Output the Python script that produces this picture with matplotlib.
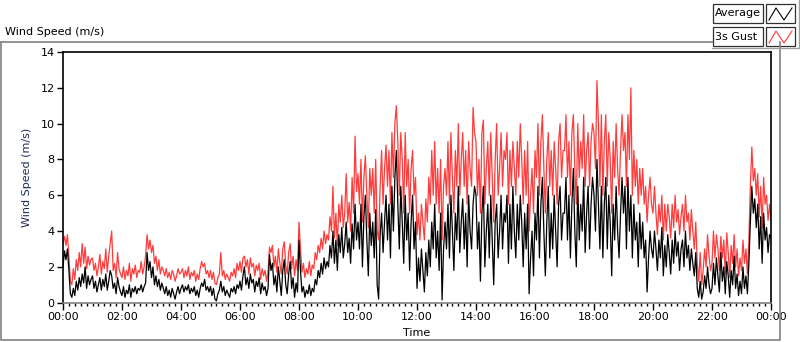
import numpy as np
import matplotlib
matplotlib.use("Agg")
import matplotlib.pyplot as plt
from matplotlib.patches import Rectangle
from matplotlib.lines import Line2D
from matplotlib.ticker import MultipleLocator, FuncFormatter

# 3-minute samples, one row per hour
average = [
    2.0, 2.9, 2.4, 3.0, 1.8, 0.5, 0.3, 0.8, 0.4, 1.2, 0.7, 1.4, 0.9, 1.6, 1.1, 2.0, 0.8, 1.5, 1.0, 1.3,
    1.5, 0.8, 1.2, 0.6, 1.0, 1.4, 0.7, 1.3, 0.9, 1.6, 0.7, 1.2, 1.8, 1.5, 0.8, 1.1, 0.5, 1.4, 0.9, 0.6,
    0.4, 0.9, 0.3, 0.7, 0.5, 1.0, 0.3, 0.8, 0.6, 0.9, 0.5, 0.8, 0.7, 1.0, 0.6, 0.9, 1.1, 2.8, 1.8, 2.3,
    1.4, 2.0, 1.0, 1.5, 0.9, 1.3, 0.7, 1.1, 0.8, 0.5, 0.9, 0.4, 0.7, 0.3, 0.8, 0.5, 0.2, 0.6, 0.9, 0.5,
    0.8, 1.0, 0.6, 0.9, 0.7, 1.0, 0.5, 0.8, 0.6, 0.9, 0.4, 0.7, 0.3, 0.8, 1.1, 0.9, 1.3, 0.7, 0.9, 0.6,
    0.9, 0.4, 0.8, 0.2, 0.1, 0.5, 0.7, 1.2, 0.6, 0.9, 0.4, 0.7, 0.5, 0.3, 0.8, 0.6, 0.9, 0.5, 1.0, 0.8,
    1.2, 0.7, 1.5, 2.0, 1.0, 1.4, 0.8, 1.6, 1.1, 1.3, 0.6, 1.2, 0.9, 1.4, 0.5, 1.1, 0.7, 0.9, 0.4, 0.8,
    2.7, 1.8, 2.2, 1.0, 1.5, 0.6, 2.0, 1.2, 0.4, 1.8, 2.4, 1.0, 0.5, 1.6, 2.3, 0.8, 1.4, 0.3, 1.1, 0.6,
    3.5, 1.8, 0.6, 0.9, 0.3, 0.7, 0.5, 1.0, 0.4, 0.8, 0.6, 1.3, 1.0, 1.8, 1.4, 2.2, 1.6, 2.5, 1.9, 2.3,
    2.0, 3.2, 2.5, 4.0, 2.2, 3.5, 1.8, 3.8, 2.8, 4.2, 2.5, 3.3, 4.5, 2.8, 3.6, 2.2, 4.4, 3.0, 5.5, 3.5,
    4.5, 3.0, 5.5, 2.0, 4.8, 6.0, 3.5, 1.5, 5.0, 3.2, 4.5, 2.5, 5.2, 1.0, 0.2, 3.8, 5.0, 2.8, 4.5, 6.0,
    3.5, 5.5, 2.5, 6.5, 4.0, 7.0, 8.5, 5.5, 3.0, 6.5, 4.5, 2.2, 6.0, 3.5, 5.0, 1.8, 4.5, 6.0, 3.0, 4.5,
    0.8, 2.5, 1.2, 3.0, 1.8, 0.6, 2.8, 1.5, 3.5, 2.0, 4.5, 3.0, 5.5, 2.5, 4.0, 1.8, 5.0, 0.15, 3.0, 4.5,
    3.0, 5.5, 2.5, 6.0, 4.0, 1.8, 5.0, 3.5, 6.5, 2.8, 4.5, 5.8, 3.0, 5.0, 2.0, 6.0, 4.0, 3.0, 5.5, 6.5,
    6.0, 3.0, 4.5, 1.2, 5.0, 6.5, 2.0, 4.0, 5.5, 2.5, 6.0, 3.5, 1.0, 4.5, 5.5, 2.5, 4.0, 6.0, 3.0, 5.0,
    4.5, 6.0, 2.2, 5.5, 3.0, 6.5, 4.0, 2.5, 5.5, 3.5, 6.0, 4.5, 2.0, 5.0, 3.0, 5.5, 0.5, 2.5, 4.0, 1.5,
    5.0, 3.5, 6.5, 2.5, 5.5, 7.0, 4.0, 1.5, 4.5, 6.5, 2.5, 5.0, 3.0, 6.0, 4.0, 2.0, 5.5, 6.5, 3.5, 5.0,
    5.0, 7.0, 3.5, 6.0, 2.5, 5.5, 7.5, 4.0, 2.0, 6.5, 3.5, 5.5, 4.0, 7.0, 2.8, 5.0, 6.5, 3.0, 5.5, 7.0,
    6.0, 4.0, 8.0, 5.5, 3.0, 6.5, 2.5, 5.5, 7.0, 3.0, 6.0, 4.5, 1.5, 5.5, 3.5, 6.5, 4.0, 2.5, 5.0, 7.0,
    5.0, 6.5, 3.0, 7.0, 4.0, 6.0, 2.5, 5.5, 3.5, 4.5, 2.0, 5.0, 3.0, 4.5, 2.5, 3.5, 0.6, 2.5, 4.0, 3.0,
    2.5, 4.0, 3.0, 1.8, 3.5, 2.5, 4.2, 1.5, 3.2, 2.0, 3.8, 2.8, 1.6, 3.5, 2.2, 4.0, 2.6, 3.4, 1.8, 3.0,
    3.5, 2.0, 4.0, 2.5, 3.2, 1.8, 3.0, 2.2, 1.5, 2.8, 0.8, 0.3, 1.2, 0.2, 0.6, 1.5, 0.8, 2.0, 1.0, 0.5,
    0.8, 2.2, 1.0, 2.5, 1.5, 0.6, 2.8, 1.2, 2.0, 0.5, 2.3, 1.5, 0.3, 1.8, 1.0, 2.6, 0.8, 1.6, 0.4, 1.2,
    0.5, 2.0, 0.8, 1.5, 0.5, 2.2, 4.5, 6.5, 5.0, 5.8, 4.2, 5.5, 3.0, 4.8, 2.2, 5.0, 3.5, 4.2, 2.8, 3.8,
    3.6,
]
gust = [
    3.3, 3.7, 3.2, 3.8, 2.6, 1.2, 1.0, 1.9, 1.3, 2.4, 1.8, 2.8, 2.0, 3.3, 2.2, 3.1, 1.9, 2.6, 2.1, 2.4,
    2.5, 1.8, 2.2, 1.5, 2.0, 2.7, 1.6, 2.3, 1.9, 3.0, 1.7, 2.6, 3.3, 4.0, 1.8, 2.2, 1.4, 2.8, 1.9, 1.6,
    1.4, 2.0, 1.3, 1.8, 1.5, 2.2, 1.2, 1.9, 1.6, 2.1, 1.4, 1.8, 1.7, 2.3, 1.6, 2.0, 2.6, 3.8, 3.0, 3.5,
    2.8, 3.2, 2.2, 2.6, 1.8, 2.4, 1.6, 2.0, 1.8, 1.5, 1.9, 1.4, 1.7, 1.3, 1.8, 1.6, 1.2, 1.5, 1.9, 1.6,
    1.7, 1.9, 1.4, 1.8, 1.5, 2.0, 1.3, 1.7, 1.5, 1.8, 1.2, 1.6, 1.3, 1.9, 2.3, 2.0, 2.2, 1.6, 1.8, 1.4,
    1.8, 1.3, 1.7, 1.1, 1.0, 1.4, 1.6, 2.8, 1.5, 1.8, 1.3, 1.6, 1.4, 1.2, 1.7, 1.5, 1.9, 1.4, 2.2, 1.8,
    2.3, 1.7, 2.5, 2.6, 2.0, 2.4, 1.6, 2.5, 2.0, 2.2, 1.5, 2.1, 1.8, 2.2, 1.3, 1.9, 1.5, 1.8, 1.2, 1.7,
    3.1, 2.8, 3.2, 2.0, 2.6, 1.7, 3.0, 2.2, 1.6, 3.0, 3.4, 2.1, 1.6, 2.8, 3.3, 1.9, 2.6, 1.5, 2.4, 1.8,
    4.5, 3.0, 1.7, 2.2, 1.4, 1.9, 1.6, 2.3, 1.5, 2.1, 1.9, 2.8, 2.4, 3.2, 2.8, 3.6, 3.0, 4.0, 3.3, 3.8,
    3.5, 4.8, 4.0, 6.5, 3.6, 5.0, 3.2, 5.5, 4.5, 6.0, 4.2, 5.0, 7.2, 4.5, 5.6, 4.0, 7.0, 5.0, 9.3, 6.2,
    7.2, 5.5, 8.0, 4.5, 7.0, 8.2, 6.0, 4.2, 7.5, 6.0, 7.5, 5.0, 8.0, 4.0, 3.5, 6.5, 8.5, 5.5, 7.5, 8.8,
    6.5, 8.5, 5.5, 9.5, 7.0, 10.0, 11.0, 9.0, 6.0, 9.5, 8.0, 5.0, 9.5, 6.5, 8.0, 5.0, 7.5, 8.5, 6.0, 7.0,
    3.8, 5.0, 3.5, 5.5, 4.5, 3.5, 5.8, 4.5, 7.0, 5.5, 8.5, 6.0, 9.0, 5.5, 7.5, 5.0, 8.0, 3.5, 6.5, 7.5,
    6.0, 9.0, 5.5, 9.5, 7.0, 5.0, 8.5, 6.5, 10.0, 6.0, 8.0, 9.5, 6.5, 8.5, 5.5, 9.0, 7.5, 6.5, 10.9, 9.5,
    9.0, 6.0, 8.0, 5.0, 9.5, 10.2, 5.5, 7.5, 9.0, 6.0, 9.5, 7.0, 4.5, 8.0, 10.0, 6.0, 7.5, 9.5, 6.5, 8.5,
    8.0, 9.5, 5.5, 8.5, 6.5, 9.0, 7.5, 6.0, 9.0, 7.0, 10.0, 8.0, 5.5, 8.5, 6.0, 9.0, 4.0, 6.0, 7.5, 5.0,
    8.5, 7.0, 10.0, 6.0, 9.0, 10.5, 7.5, 5.0, 8.0, 9.5, 6.5, 8.5, 6.0, 9.0, 7.5, 5.5, 9.0, 10.0, 7.0, 8.5,
    8.5, 10.5, 7.0, 9.0, 6.0, 9.5, 10.5, 7.5, 5.5, 10.0, 7.0, 9.0, 7.5, 10.5, 6.5, 8.5, 9.5, 6.5, 9.0, 10.0,
    9.5, 7.5, 12.4, 10.0, 6.5, 10.5, 6.0, 9.0, 10.5, 6.5, 9.5, 8.0, 5.0, 9.0, 7.0, 10.0, 7.5, 6.0, 8.5, 10.5,
    8.5, 9.5, 6.5, 10.5, 8.0, 12.0, 6.0, 8.5, 6.5, 8.0, 5.5, 7.5, 6.0, 7.5, 5.5, 6.5, 4.5, 6.0, 7.0, 5.5,
    5.0, 6.5, 5.0, 3.8, 5.5, 4.5, 6.0, 3.5, 5.5, 4.0, 5.5, 4.8, 3.6, 5.5, 4.2, 6.0, 4.5, 5.2, 3.8, 4.8,
    5.5, 4.0, 6.0, 4.5, 5.0, 3.5, 5.2, 4.0, 3.0, 4.5, 2.2, 1.2, 2.8, 1.0, 1.8, 3.0, 2.0, 3.8, 2.6, 1.8,
    2.2, 4.0, 2.5, 3.8, 3.0, 1.8, 3.7, 2.5, 3.5, 1.6, 3.9, 2.8, 1.4, 3.2, 2.2, 3.8, 2.0, 3.0, 1.5, 2.5,
    1.8, 3.5, 2.2, 3.0, 1.6, 3.5, 6.5, 8.7, 6.8, 7.5, 6.0, 7.2, 4.8, 6.5, 4.2, 7.0, 5.5, 6.0, 4.6, 5.5,
    4.6,
]
hours = np.arange(len(average)) * 3 / 60.0

W, H = 800, 342
fig = plt.figure(figsize=(W / 100, H / 100), dpi=100)
plt.rcParams["font.family"] = "DejaVu Sans"

def fx(px):
    return px / W

def fy(py):
    return 1 - py / H

# outer panel border
fig.add_artist(Line2D([fx(1), fx(1), fx(780), fx(780)], [fy(42), fy(340), fy(340), fy(42)],
                      color="#808080", lw=1.2))
fig.add_artist(Line2D([fx(1), fx(712)], [fy(42), fy(42)], color="#808080", lw=1.2))
fig.text(fx(5), fy(32), "Wind Speed (m/s)", fontsize=8, va="center", ha="left")

# legend
fig.add_artist(Line2D([fx(712), fx(799), fx(799)], [fy(48), fy(48), fy(0)], color="#a0a0a0", lw=1))
for i, (name, col) in enumerate([("Average", "black"), ("3s Gust", "#ff3b3b")]):
    top = 4 + i * 23
    fig.add_artist(Rectangle((fx(713), fy(top + 19)), fx(50), 19 / H, fill=True, fc="white",
                             ec="#303030", lw=0.9))
    fig.text(fx(715), fy(top + 9.5), name, fontsize=8, va="center", ha="left")
    fig.add_artist(Rectangle((fx(766), fy(top + 19)), fx(29), 19 / H, fill=True, fc="white",
                             ec="#303030", lw=0.9))
    zx = [769, 776, 784, 792]
    zy = [top + 16, top + 4, top + 16, top + 4]
    fig.add_artist(Line2D([fx(v) for v in zx], [fy(v) for v in zy], color=col, lw=0.8))

ax = fig.add_axes([fx(63), fy(302.7), fx(771 - 63), (302.7 - 52) / H])
ax.plot(hours, gust, color="#ff3b3b", lw=0.9)
ax.plot(hours, average, color="black", lw=0.9)
ax.set_xlim(0, 24)
ax.set_ylim(0, 14)
ax.yaxis.set_major_locator(MultipleLocator(2))
ax.xaxis.set_major_locator(MultipleLocator(2))
ax.xaxis.set_minor_locator(MultipleLocator(0.2))
ax.xaxis.set_major_formatter(FuncFormatter(lambda v, p: "%02d:00" % (int(round(v)) % 24)))
for s in ["left", "top", "right"]:
    ax.spines[s].set_color("black")
    ax.spines[s].set_linewidth(1.2)
ax.spines["bottom"].set_color("#808080")
ax.spines["bottom"].set_linewidth(1.2)
ax.tick_params(axis="y", length=4, width=1, labelsize=8, pad=2)
ax.tick_params(axis="x", which="major", length=5, width=1, labelsize=8, pad=2)
ax.tick_params(axis="x", which="minor", length=2.5, width=1)
ax.set_ylabel("Wind Speed (m/s)", fontsize=8, color="#1f2a5a", labelpad=6)
ax.set_xlabel("Time", fontsize=8, labelpad=4)

fig.savefig("out.png", dpi=100)
